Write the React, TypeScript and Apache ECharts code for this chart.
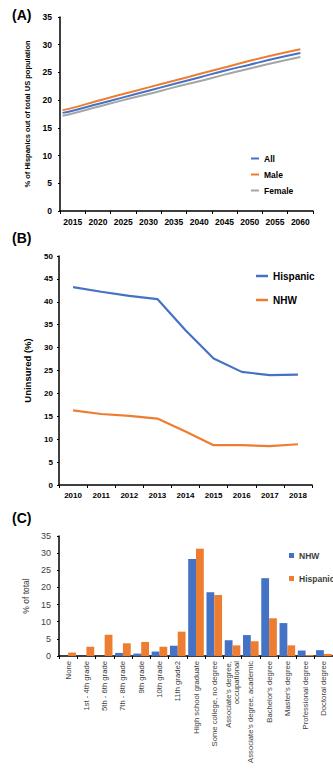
import React, { useEffect, useRef } from "react";
import * as echarts from "echarts";

// Panel A: projected share of Hispanics in US population
const projYears = [2013, 2015, 2020, 2025, 2030, 2035, 2040, 2045, 2050, 2055, 2060];
const projAll = [17.7, 18.1, 19.3, 20.5, 21.7, 22.9, 24.1, 25.3, 26.4, 27.5, 28.5];
const projMale = [18.2, 18.6, 19.9, 21.1, 22.3, 23.5, 24.7, 25.9, 27.1, 28.2, 29.2];
const projFemale = [17.2, 17.6, 18.8, 20.0, 21.1, 22.3, 23.4, 24.6, 25.7, 26.8, 27.8];
const projLabelYears = [2015, 2020, 2025, 2030, 2035, 2040, 2045, 2050, 2055, 2060];
const projTickYears = [2012.5, 2017.5, 2022.5, 2027.5, 2032.5, 2037.5, 2042.5, 2047.5, 2052.5, 2057.5, 2062.5];

// Panel B: uninsured rates
const insYears = ["2010", "2011", "2012", "2013", "2014", "2015", "2016", "2017", "2018"];
const insHispanic = [43.2, 42.2, 41.3, 40.6, 33.8, 27.6, 24.7, 24.0, 24.1];
const insNHW = [16.3, 15.5, 15.1, 14.5, 11.7, 8.7, 8.7, 8.5, 8.9];

// Panel C: educational attainment
const eduCategories = [
  "None",
  "1st - 4th grade",
  "5th - 6th grade",
  "7th - 8th grade",
  "9th grade",
  "10th grade",
  "11th grade2",
  "High school graduate",
  "Some college, no degree",
  "Associate's degree,\noccupational",
  "Associate's degree, academic",
  "Bachelor's degree",
  "Master's degree",
  "Professional degree",
  "Doctoral degree",
];
const eduNHW = [0, 0, 0, 0.9, 0.7, 1.3, 3.0, 28.3, 18.6, 4.6, 6.1, 22.7, 9.6, 1.6, 1.7];
const eduHispanic = [1.0, 2.7, 6.2, 3.7, 4.1, 2.7, 7.1, 31.3, 17.8, 3.1, 4.3, 11.0, 3.1, 0.3, 0.6];

const BLUE = "#4472C4";
const ORANGE = "#ED7D31";
const GREY = "#A5A5A5";
const FONT = "Liberation Sans, Arial, sans-serif";

const axisLineStyle = { show: true, lineStyle: { color: "#000", width: 1.5 } };

export default function App() {
  const ref = useRef<HTMLDivElement>(null);
  useEffect(() => {
    const chart = echarts.init(ref.current!, null, { renderer: "svg" });
    const option: any = {
      animation: false,
      textStyle: { fontFamily: FONT },
      graphic: [
        { type: "text", left: 12, top: 8, style: { text: "(A)", font: `bold 14px ${FONT}`, fill: "#000" } },
        { type: "text", left: 12, top: 231, style: { text: "(B)", font: `bold 14px ${FONT}`, fill: "#000" } },
        { type: "text", left: 12, top: 511, style: { text: "(C)", font: `bold 14px ${FONT}`, fill: "#000" } },
      ],
      grid: [
        { left: 60, top: 17, width: 253, height: 194 },
        { left: 59, top: 256, width: 253, height: 229 },
        { left: 59, top: 536, width: 277.5, height: 120 },
      ],
      xAxis: [
        {
          gridIndex: 0,
          type: "value",
          min: 2012.5,
          max: 2062.5,
          splitLine: { show: false },
          axisLine: axisLineStyle,
          axisTick: { show: true, length: 3, customValues: projTickYears, lineStyle: { color: "#000" } },
          axisLabel: {
            customValues: projLabelYears,
            formatter: (v: number) => String(v),
            fontSize: 8.5,
            fontWeight: "bold",
            color: "#000",
            margin: 6,
          },
        },
        {
          gridIndex: 1,
          type: "category",
          data: insYears,
          boundaryGap: true,
          axisLine: axisLineStyle,
          axisTick: { show: true, length: 3, lineStyle: { color: "#000" } },
          axisLabel: { fontSize: 8, fontWeight: "bold", color: "#000", margin: 6, interval: 0 },
        },
        {
          gridIndex: 2,
          type: "category",
          data: eduCategories,
          boundaryGap: true,
          axisLine: axisLineStyle,
          axisTick: { show: true, length: 3, lineStyle: { color: "#000" } },
          axisLabel: {
            fontSize: 7.7,
            color: "#404040",
            rotate: 90,
            margin: 5,
            interval: 0,
            lineHeight: 8,
          },
        },
      ],
      yAxis: [
        {
          gridIndex: 0,
          type: "value",
          min: 0,
          max: 35,
          interval: 5,
          splitLine: { show: false },
          axisLine: axisLineStyle,
          axisTick: { show: true, length: 2, lineStyle: { color: "#000" } },
          axisLabel: { fontSize: 8.5, fontWeight: "bold", color: "#000", margin: 8 },
          name: "% of Hispanics out of total US population",
          nameLocation: "middle",
          nameGap: 27,
          nameTextStyle: { fontSize: 7.5, fontWeight: "bold", color: "#000" },
        },
        {
          gridIndex: 1,
          type: "value",
          min: 0,
          max: 50,
          interval: 5,
          splitLine: { show: false },
          axisLine: axisLineStyle,
          axisTick: { show: true, length: 2, lineStyle: { color: "#000" } },
          axisLabel: { fontSize: 8, fontWeight: "bold", color: "#000", margin: 6 },
          name: "Uninsured (%)",
          nameLocation: "middle",
          nameGap: 27,
          nameTextStyle: { fontSize: 9.5, fontWeight: "bold", color: "#000" },
        },
        {
          gridIndex: 2,
          type: "value",
          min: 0,
          max: 35,
          interval: 5,
          splitLine: { show: false },
          axisLine: axisLineStyle,
          axisTick: { show: true, length: 2, lineStyle: { color: "#000" } },
          axisLabel: { fontSize: 9, color: "#404040", margin: 8 },
          name: "% of total",
          nameLocation: "middle",
          nameGap: 27,
          nameTextStyle: { fontSize: 8.5, color: "#404040" },
        },
      ],
      legend: [
        {
          orient: "vertical",
          left: 246,
          top: 149,
          itemWidth: 8,
          itemHeight: 2,
          itemGap: 7,
          icon: "rect",
          data: ["All", "Male", "Female"],
          textStyle: { fontSize: 8.5, fontWeight: "bold", color: "#000" },
        },
        {
          orient: "vertical",
          left: 251,
          top: 266,
          itemWidth: 12,
          itemHeight: 2.5,
          itemGap: 14,
          icon: "rect",
          data: ["Hispanic", "NHW"],
          textStyle: { fontSize: 10, fontWeight: "bold", color: "#000" },
        },
        {
          orient: "vertical",
          left: 284,
          top: 546,
          itemWidth: 5,
          itemHeight: 5,
          itemGap: 14,
          icon: "rect",
          data: ["C:NHW", "C:Hispanic"],
          formatter: (n: string) => n.slice(2),
          textStyle: { fontSize: 8.5, fontWeight: "bold", color: "#404040" },
        },
      ],
      series: [
        {
          name: "All",
          type: "line",
          xAxisIndex: 0,
          yAxisIndex: 0,
          data: projYears.map((y, i) => [y, projAll[i]]),
          showSymbol: false,
          smooth: true,
          lineStyle: { color: BLUE, width: 2 },
          itemStyle: { color: BLUE },
        },
        {
          name: "Male",
          type: "line",
          xAxisIndex: 0,
          yAxisIndex: 0,
          data: projYears.map((y, i) => [y, projMale[i]]),
          showSymbol: false,
          smooth: true,
          lineStyle: { color: ORANGE, width: 2 },
          itemStyle: { color: ORANGE },
        },
        {
          name: "Female",
          type: "line",
          xAxisIndex: 0,
          yAxisIndex: 0,
          data: projYears.map((y, i) => [y, projFemale[i]]),
          showSymbol: false,
          smooth: true,
          lineStyle: { color: GREY, width: 2 },
          itemStyle: { color: GREY },
        },
        {
          name: "Hispanic",
          type: "line",
          xAxisIndex: 1,
          yAxisIndex: 1,
          data: insHispanic,
          showSymbol: false,
          lineStyle: { color: BLUE, width: 2.2 },
          itemStyle: { color: BLUE },
        },
        {
          name: "NHW",
          type: "line",
          xAxisIndex: 1,
          yAxisIndex: 1,
          data: insNHW,
          showSymbol: false,
          lineStyle: { color: ORANGE, width: 2.2 },
          itemStyle: { color: ORANGE },
        },
        {
          name: "C:NHW",
          type: "bar",
          xAxisIndex: 2,
          yAxisIndex: 2,
          data: eduNHW,
          barWidth: 7.8,
          barGap: "0%",
          itemStyle: { color: BLUE },
        },
        {
          name: "C:Hispanic",
          type: "bar",
          xAxisIndex: 2,
          yAxisIndex: 2,
          data: eduHispanic,
          barWidth: 7.8,
          barGap: "0%",
          itemStyle: { color: ORANGE },
        },
      ],
    };
    chart.setOption(option);
    return () => chart.dispose();
  }, []);
  return (
    <div
      ref={ref}
      style={{ position: "fixed", left: 0, top: 0, width: 333, height: 775, background: "#fff" }}
    />
  );
}
